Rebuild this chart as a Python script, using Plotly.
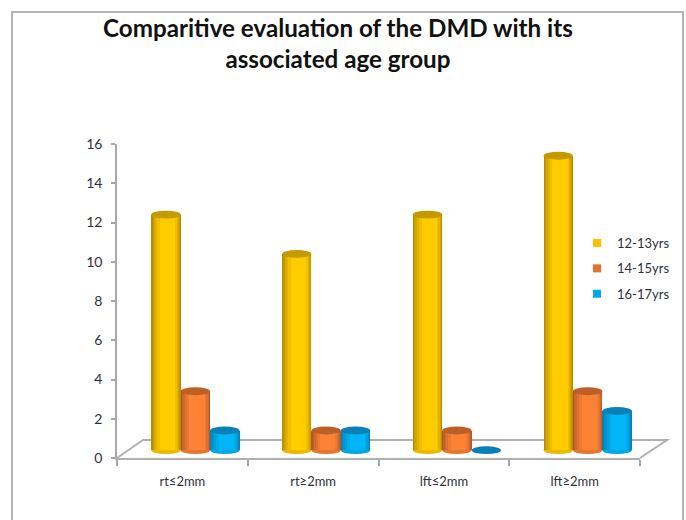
import plotly.graph_objects as go

categories = ["rt≤2mm", "rt≥2mm", "lft≤2mm", "lft≥2mm"]
series_names = ["12-13yrs", "14-15yrs", "16-17yrs"]
values_12_13 = [12, 10, 12, 15]
values_14_15 = [3, 1, 1, 3]
values_16_17 = [1, 1, 0, 2]
all_values = [values_12_13, values_14_15, values_16_17]

# cylinder shading, edge to centre
edge_cols = [(184, 140, 0), (178, 88, 36), (8, 128, 186)]
mid_cols = [(255, 204, 0), (252, 130, 54), (0, 182, 246)]
caps = ["#c49a00", "#bf5f28", "#0a80b8"]
legend_cols = ["#ffc000", "#e8702e", "#00a8ec"]

W, H = 686, 520
L, R, T, B = 117, 640, 144, 458   # plot area in picture pixels
BASE = 0.4
BAR_W = 0.225
START = -0.238
CAP_H = 0.2
strips = [1.0, 0.93, 0.86, 0.77, 0.66, 0.52]
SKEW = 0.62  # highlight sits slightly right of centre


def mix(a, b, t):
    return "rgb({},{},{})".format(*[round(p + (q - p) * t) for p, q in zip(a, b)])


fig = go.Figure()
shapes = []

for i, (name, vals) in enumerate(zip(series_names, all_values)):
    off = START + i * BAR_W
    for j, frac in enumerate(strips):
        w = BAR_W * frac
        fig.add_bar(
            x=categories, y=vals, base=BASE, name=name, legendgroup=name,
            width=w, offset=off + (BAR_W - w) * SKEW,
            marker=dict(color=mix(edge_cols[i], mid_cols[i], j / (len(strips) - 1)), line_width=0),
            showlegend=False, hoverinfo="skip" if j else None,
        )
    fig.add_scatter(x=[categories[0]], y=[None], name=name, mode="markers", legendgroup=name,
                    marker=dict(color=legend_cols[i], symbol="square", size=8))
    for c, v in enumerate(vals):
        x0, x1 = c + off, c + off + BAR_W
        if v > 0:
            shapes.append(dict(type="circle", xref="x", yref="y", layer="between",
                               x0=x0, x1=x1, y0=BASE - CAP_H, y1=BASE + CAP_H,
                               fillcolor=mix(edge_cols[i], mid_cols[i], 0.7), line_width=0))
        shapes.append(dict(type="circle", xref="x", yref="y", layer="above",
                           x0=x0, x1=x1, y0=BASE + v - CAP_H, y1=BASE + v + CAP_H,
                           fillcolor=caps[i], line_width=0))


def px(x):
    return (x - L) / (R - L)


def py(y):
    return (B - y) / (B - T)


shapes.append(dict(type="path", xref="paper", yref="paper", layer="below",
                   path=f"M {px(12)} {py(530)} L {px(12)} {py(12)} L {px(683)} {py(12)} L {px(683)} {py(530)}",
                   line=dict(color="#b4b4b4", width=2)))
shapes.append(dict(type="path", xref="paper", yref="paper", layer="below",
                   path=f"M {px(117)} {py(458)} L {px(143)} {py(440)} L {px(667)} {py(440)} L {px(640)} {py(458)}",
                   line=dict(color="#b0b0b0", width=2)))

TXT = "#2f2f3a"
fig.update_layout(
    width=W, height=H, autosize=False,
    paper_bgcolor="white", plot_bgcolor="rgba(0,0,0,0)",
    barmode="overlay", bargap=0,
    margin=dict(l=L, r=W - R, t=T, b=H - B, pad=0, autoexpand=False),
    font=dict(family="Lato, Open Sans, sans-serif", color=TXT, size=13),
    shapes=shapes,
    showlegend=True,
    legend=dict(x=px(577), y=py(228), yanchor="top", xanchor="left",
                bgcolor="rgba(0,0,0,0)", borderwidth=0, traceorder="grouped",
                font=dict(size=13, color=TXT), itemwidth=30, tracegroupgap=5.5),
    xaxis=dict(type="category", categoryorder="array", categoryarray=categories,
               range=[-0.5, 3.5], tickson="boundaries", ticks="outside", ticklen=6,
               tickcolor="#a8a8a8", tickwidth=1.5, showline=True, linecolor="#b0b0b0",
               linewidth=2, showgrid=False, tickfont=dict(size=13, color=TXT),
               zeroline=False, ticklabelstandoff=10),
    yaxis=dict(range=[0, 16], tickmode="linear", dtick=2, ticks="outside", ticklen=4,
               tickcolor="#a8a8a8", tickwidth=1.5, showline=True, linecolor="#a8a8a8",
               linewidth=1.5, showgrid=False, zeroline=False, ticklabelstandoff=6,
               tickfont=dict(size=14, color=TXT)),
    annotations=[dict(text="<b>Comparitive evaluation of the DMD with its</b><br><b>associated age group</b>",
                      xref="paper", yref="paper", x=px(337.5), y=py(11), xanchor="center", yanchor="top",
                      showarrow=False, align="center",
                      font=dict(family="Lato, sans-serif", size=24.2, color="#111111"))],
)

fig.write_html("out.html", config={"displayModeBar": False},
               post_script="document.body.style.margin='0';")
